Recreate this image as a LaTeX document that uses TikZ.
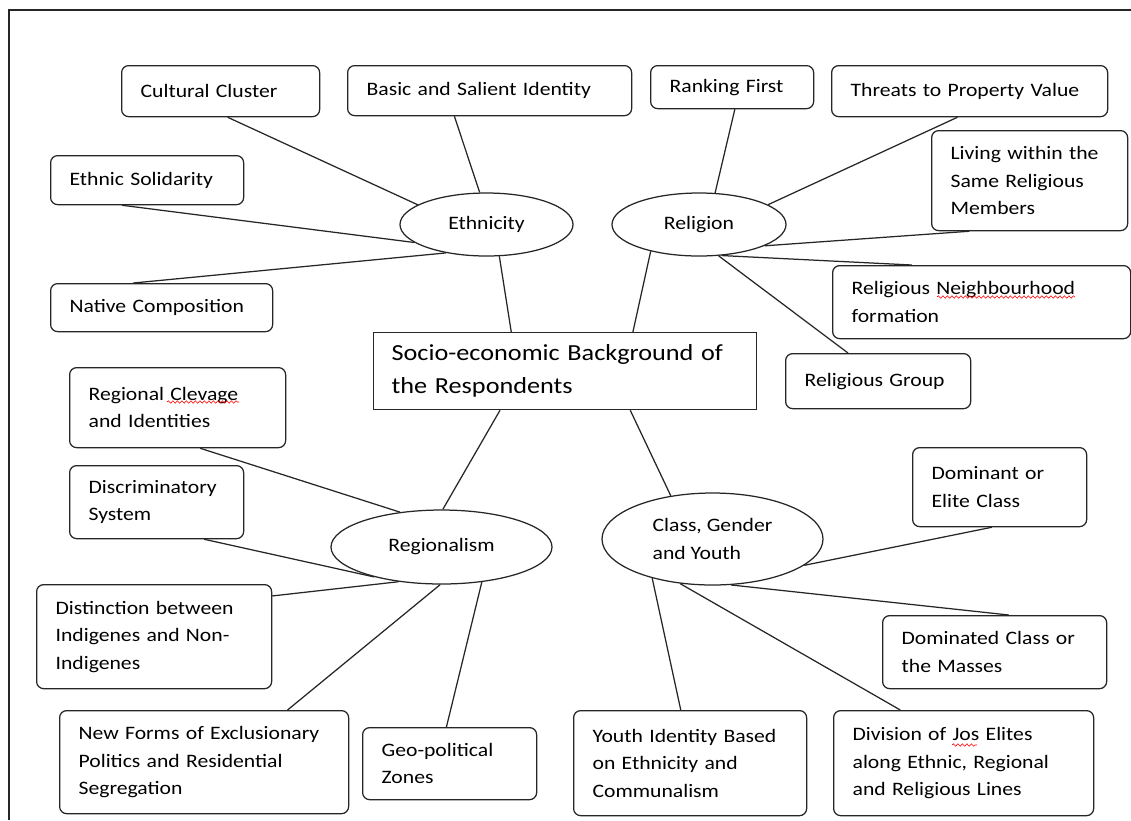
\documentclass[tikz,border=0pt]{standalone}
\usepackage{fontspec}
\setmainfont{Carlito}[FakeStretch=1.14]
\usetikzlibrary{shapes.geometric,decorations.pathmorphing}

\begin{document}
\begin{tikzpicture}[x=1pt, y=-1pt, line width=1.25pt, draw=black!85,
  item/.style={draw, rounded corners=7pt, anchor=north west, align=left, inner xsep=19pt, inner ysep=0pt, font=\fontsize{19}{27.5}\selectfont},
  topic/.style={draw, ellipse, inner sep=0pt, align=left, font=\fontsize{19}{27.5}\selectfont},
  core/.style={draw, anchor=north west, align=left, inner xsep=18pt, inner ysep=0pt, font=\fontsize{23}{33}\selectfont},
  spell/.style={red, line width=0.6pt, decorate, decoration={snake, amplitude=1.2pt, segment length=4.5pt}}]
\useasboundingbox (0,0) rectangle (1131,820);
\draw[line width=1.5pt] (9,820) -- (9,10) -- (1131,10);

\node[core, text width=347pt, minimum height=77pt] (core) at (373,332) {Socio-economic Background of\\the Respondents};

\node[topic, minimum width=173pt, minimum height=63pt] (eth) at (486.5,224.5) {Ethnicity};
\node[topic, minimum width=174pt, minimum height=63pt] (rel) at (699,224.5) {Religion};
\node[topic, minimum width=221pt, minimum height=74pt] (reg) at (441.5,547) {Regionalism};
\node[topic, minimum width=221pt, minimum height=92pt] (cls) at (712.5,539) {Class, Gender\\and Youth};

\node[item, text width=160pt, minimum height=51pt] (cult) at (121,65) {Cultural Cluster};
\node[item, text width=246pt, minimum height=50pt] (basic) at (347,65) {Basic and Salient Identity};
\node[item, text width=155pt, minimum height=49pt] (solid) at (50,155) {Ethnic Solidarity};
\node[item, text width=184pt, minimum height=48pt] (native) at (50,283) {Native Composition};

\node[item, text width=125pt, minimum height=43pt] (rank) at (650,65) {Ranking First};
\node[item, text width=238pt, minimum height=51pt] (threat) at (831,65) {Threats to Property Value};
\node[item, text width=158pt, minimum height=100pt] (living) at (931,130) {Living within the\\Same Religious\\Members};
\node[item, text width=260pt, minimum height=73pt] (neigh) at (832,265) {Religious Neighbourhood\\formation};
\node[item, text width=147pt, minimum height=55pt] (rgroup) at (785,353) {Religious Group};

\node[item, text width=178pt, minimum height=80pt] (clev) at (69,367) {Regional Clevage\\and Identities};
\node[item, text width=136pt, minimum height=73pt] (discr) at (69,465) {Discriminatory\\System};
\node[item, text width=197pt, minimum height=104pt] (dist) at (36,584) {Distinction between\\Indigenes and Non-\\Indigenes};
\node[item, text width=251pt, minimum height=103pt] (forms) at (59,710) {New Forms of Exclusionary\\Politics and Residential\\Segregation};
\node[item, text width=136pt, minimum height=72pt] (geo) at (362,727) {Geo-political\\Zones};

\node[item, text width=136pt, minimum height=79pt] (domt) at (912,447) {Dominant or\\Elite Class};
\node[item, text width=186pt, minimum height=73pt] (domd) at (882,615) {Dominated Class or\\the Masses};
\node[item, text width=195pt, minimum height=105pt] (youth) at (573,710) {Youth Identity Based\\on Ethnicity and\\Communalism};
\node[item, text width=222pt, minimum height=105pt] (divis) at (833,710) {Division of Jos Elites\\along Ethnic, Regional\\and Religious Lines};

\draw[spell] ([shift={(105,32)}]neigh.north west) -- ([shift={(243,32)}]neigh.north west);
\draw[spell] ([shift={(98,35)}]clev.north west) -- ([shift={(170,35)}]clev.north west);
\draw[spell] ([shift={(119,35)}]divis.north west) -- ([shift={(144,35)}]divis.north west);

\draw (eth.292) -- (core.144);
\draw (rel.209) -- (core.30);
\draw (reg.88) -- (core.211);
\draw (cls.134) -- (core.329);

\draw (cult.285) -- (eth.164);
\draw (basic.216) -- (eth.102);
\draw (solid.225) -- (eth.194);
\draw (native.139) -- (eth.215);

\draw (rank.277) -- (rel.63);
\draw (threat.245) -- (rel.16);
\draw (living.220) -- (rel.342);
\draw (neigh.152) -- (rel.306);
\draw (rgroup.137) -- (rel.302);

\draw (clev.299) -- (reg.140);
\draw (discr.322) -- (reg.204);
\draw (dist.19) -- (reg.219);
\draw (forms.32) -- (reg.268);
\draw (geo.95) -- (reg.319);

\draw (domt.259) -- (cls.344);
\draw (domd.69) -- (cls.292);
\draw (youth.100) -- (cls.213);
\draw (divis.140) -- (cls.234);
\end{tikzpicture}
\end{document}
